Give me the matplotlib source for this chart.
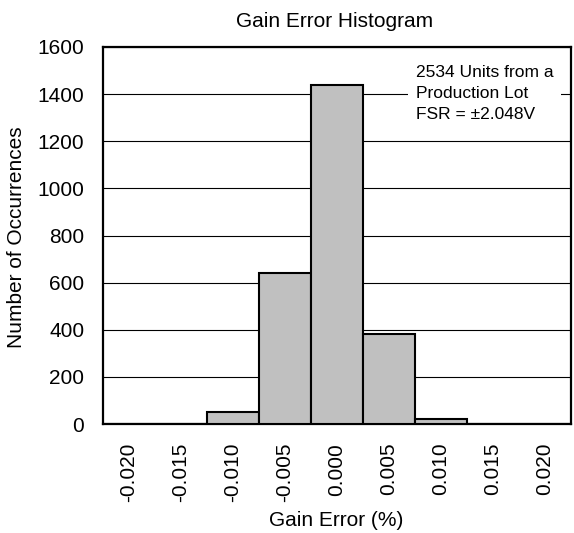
import numpy as np
import matplotlib.pyplot as plt

plt.rcParams['font.family'] = ['Liberation Sans', 'DejaVu Sans']

# Data
bins = ['-0.020', '-0.015', '-0.010', '-0.005', '0.000', '0.005', '0.010', '0.015', '0.020']
counts = [0, 0, 50, 640, 1440, 384, 20, 0, 0]

# Plot
W, H = 574, 533
fig = plt.figure(figsize=(W / 100, H / 100), dpi=100)
ax = fig.add_axes([103 / W, (H - 424) / H, 468 / W, 377 / H])

x = np.arange(len(bins))
ax.bar(x, counts, width=1.0, color='#c0c0c0', edgecolor='black', linewidth=1.5, zorder=3)

ax.set_xlim(-0.5, len(bins) - 0.5)
ax.set_ylim(0, 1600)
ax.set_yticks(np.arange(0, 1601, 200))
ax.set_xticks(x)
ax.set_xticklabels(bins, rotation=90)
ax.tick_params(axis='both', length=0, labelsize=15, pad=13.5)
ax.yaxis.grid(True, color='black', linewidth=0.8, zorder=1)
ax.set_axisbelow(True)
for s in ax.spines.values():
    s.set_linewidth(1.6)

fig.text(335 / W, 1 - 27 / H, 'Gain Error Histogram', ha='center', va='baseline', fontsize=15)
fig.text(336 / W, 7 / H, 'Gain Error (%)', ha='center', va='baseline', fontsize=15)
fig.text(17 / W, 1 - 237 / H, 'Number of Occurrences', ha='center', va='center',
         rotation=90, fontsize=15)

ax.text(0.669, 0.953, '2534 Units from a\nProduction Lot\nFSR = \u00b12.048V', transform=ax.transAxes,
        ha='left', va='top', fontsize=12.5, linespacing=1.5, zorder=4,
        bbox=dict(facecolor='white', edgecolor='none', pad=5.5))

plt.savefig('out.png', dpi=100)
